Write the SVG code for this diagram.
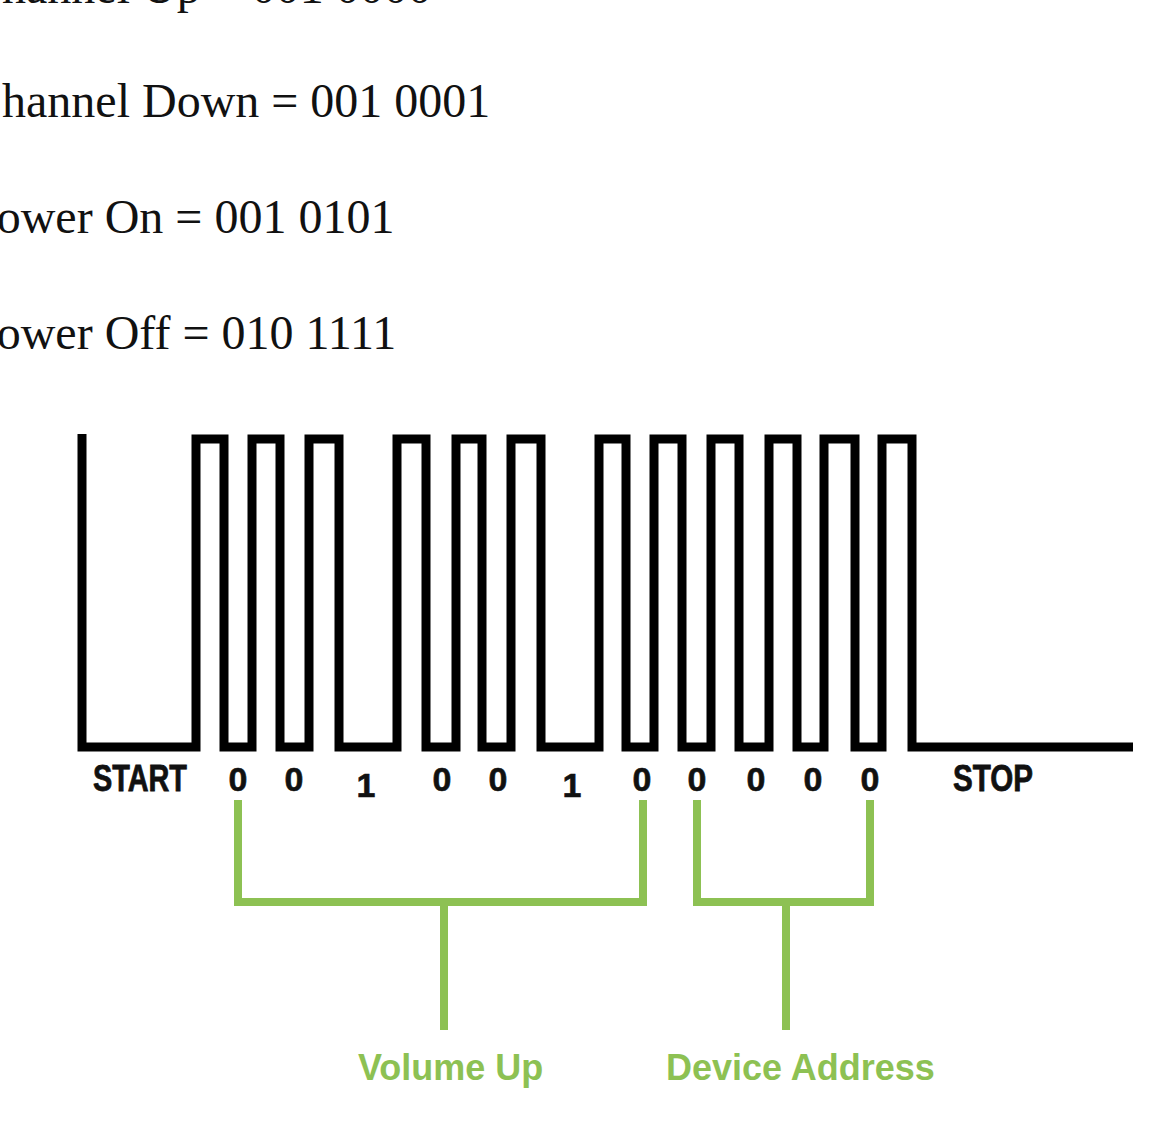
<svg xmlns="http://www.w3.org/2000/svg" width="1155" height="1127" viewBox="0 0 1155 1127">
  <style>
    .code { font-family: "Liberation Serif", "Times New Roman", serif; font-size: 48px; fill: #111; }
    .lbl { font-family: "Liberation Sans", Arial, sans-serif; font-weight: bold; font-size: 36px; fill: #111; stroke: #111; stroke-width: 0.8; }
    .bit { font-family: "Liberation Sans", Arial, sans-serif; font-weight: bold; font-size: 34px; fill: #111; stroke: #111; stroke-width: 0.6; text-anchor: middle; }
    .grp { font-family: "Liberation Sans", Arial, sans-serif; font-weight: bold; font-size: 36px; fill: #8dc153; }
    .wave { fill: none; stroke: #000; stroke-width: 9; stroke-linejoin: miter; }
    .brk { fill: none; stroke: #8dc153; stroke-width: 8; stroke-linecap: butt; stroke-linejoin: miter; }
  </style>
  <rect width="1155" height="1127" fill="#fff"/>

  <g id="codes">
    <text class="code" x="-30" y="3">Channel Up = 001 0000</text>
    <text class="code" x="-30" y="117">Channel Down = 001 0001</text>
    <text class="code" x="-30" y="233">Power On = 001 0101</text>
    <text class="code" x="-30" y="349">Power Off = 010 1111</text>
  </g>

  <g id="waveform">
    <path class="wave" d="M82,434 V747 H196 V439 H224 V747 H252 V439 H280 V747 H309 V439 H339 V747 H397 V439 H426 V747 H456 V439 H482 V747 H511 V439 H541 V747 H599 V439 H626 V747 H654 V439 H682 V747 H711 V439 H739 V747 H769 V439 H797 V747 H824 V439 H855 V747 H882 V439 H912 V747 H1133"/>
  </g>

  <g id="bit-labels">
    <text class="lbl" x="93" y="791" textLength="94" lengthAdjust="spacingAndGlyphs">START</text>
    <text class="bit" x="238" y="791">0</text>
    <text class="bit" x="294" y="791">0</text>
    <text class="bit" x="366" y="797" font-size="30">1</text>
    <text class="bit" x="442" y="791">0</text>
    <text class="bit" x="498" y="791">0</text>
    <text class="bit" x="572" y="797" font-size="30">1</text>
    <text class="bit" x="642" y="791">0</text>
    <text class="bit" x="697" y="791">0</text>
    <text class="bit" x="756" y="791">0</text>
    <text class="bit" x="813" y="791">0</text>
    <text class="bit" x="870" y="791">0</text>
    <text class="lbl" x="953" y="791" textLength="80" lengthAdjust="spacingAndGlyphs">STOP</text>
  </g>

  <g id="connectors">
    <path class="brk" d="M238,800 V902 H643 V800"/>
    <path class="brk" d="M444,902 V1030"/>
    <path class="brk" d="M697,800 V902 H870 V800"/>
    <path class="brk" d="M786,902 V1030"/>
  </g>

  <g id="volume-up">
    <text class="grp" x="358" y="1080">Volume Up</text>
  </g>
  <g id="device-address">
    <text class="grp" x="666" y="1080">Device Address</text>
  </g>
</svg>
